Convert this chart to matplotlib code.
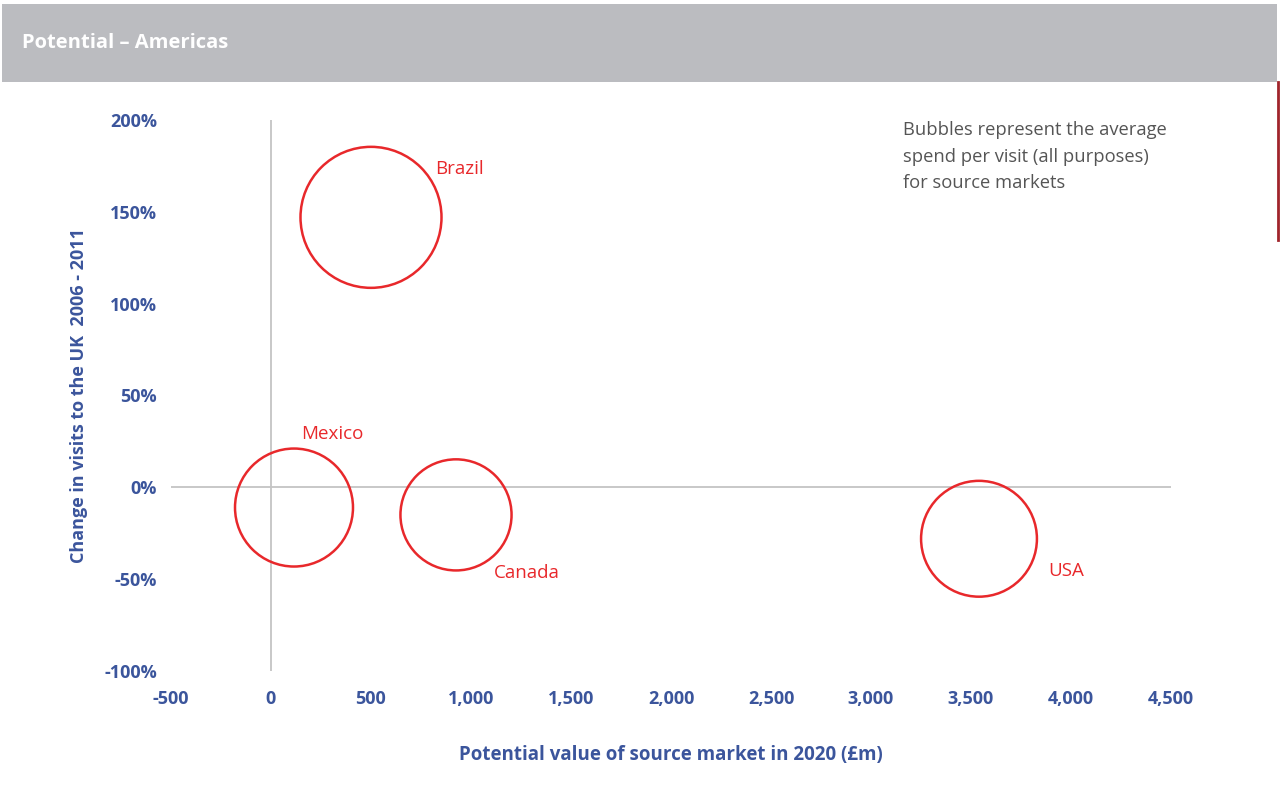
import matplotlib.pyplot as plt
from matplotlib.patches import Rectangle
from matplotlib.lines import Line2D

# data
markets = ["Brazil", "Mexico", "Canada", "USA"]
potential_value = [500, 115, 925, 3540]      # £m in 2020
visit_change = [147, -11, -15, -28]           # % change 2006-2011
spend_per_visit = [1200, 840, 745, 810]       # relative bubble size

x_ticks = [-500, 0, 500, 1000, 1500, 2000, 2500, 3000, 3500, 4000, 4500]
y_ticks = [-100, -50, 0, 50, 100, 150, 200]

# label offsets (points) from bubble centre
label_offsets = {"Brazil": (46, 35), "Mexico": (5, 53), "Canada": (27, -42), "USA": (50, -23)}

BLUE = "#3b559c"
RED = "#e8282b"
GREY = "#c4c4c4"
FONT = ["Open Sans", "DejaVu Sans"]

plt.rcParams['font.family'] = FONT

fig = plt.figure(figsize=(12.8, 7.93), dpi=100)
W, H = 1280, 793

# header band
fig.patches.append(Rectangle((2 / W, 1 - 82 / H), 1275 / W, 78 / H, transform=fig.transFigure,
                             facecolor="#bbbcc0", edgecolor="none", zorder=0))
fig.text(22 / W, 1 - 43 / H, "Potential \u2013 Americas", color="white", fontsize=14.5,
         fontweight="bold", va="center", ha="left")
fig.lines.append(Line2D([1278 / W, 1278 / W], [1 - 82 / H, 1 - 240 / H], transform=fig.transFigure,
                        color="#a0252b", lw=2))

ax = fig.add_axes([171 / W, 1 - 671 / H, 1000 / W, 551 / H])
ax.set_xlim(-500, 4500)
ax.set_ylim(-100, 200)
for s in ax.spines.values():
    s.set_visible(False)
ax.axvline(0, color=GREY, lw=1.3, zorder=1)
ax.axhline(0, color=GREY, lw=1.3, zorder=1)

sizes = [v * 8.59 for v in spend_per_visit]
ax.scatter(potential_value, visit_change, s=sizes, facecolors="none", edgecolors=RED,
           linewidths=1.8, zorder=3, clip_on=False)

for name, xv, yv in zip(markets, potential_value, visit_change):
    dx, dy = label_offsets[name]
    ax.annotate(name, (xv, yv), xytext=(dx, dy), textcoords="offset points",
                color=RED, fontsize=13.5, ha="left", va="center")

ax.set_xticks(x_ticks)
ax.set_xticklabels(["{:,}".format(v) for v in x_ticks])
ax.set_yticks(y_ticks)
ax.set_yticklabels(["{}%".format(v) for v in y_ticks])
ax.tick_params(length=0, colors=BLUE, labelsize=13)
ax.tick_params(axis="x", pad=14)
ax.tick_params(axis="y", pad=10)
for lab in ax.get_xticklabels() + ax.get_yticklabels():
    lab.set_fontweight("bold")

ax.set_xlabel("Potential value of source market in 2020 (\u00a3m)", color=BLUE, fontsize=13.5,
              fontweight="bold", labelpad=26)
ax.set_ylabel("Change in visits to the UK  2006 - 2011", color=BLUE, fontsize=13,
              fontweight="bold", labelpad=12)

fig.text(903 / W, 1 - 121 / H, "Bubbles represent the average\nspend per visit (all purposes)\nfor source markets",
         color="#555555", fontsize=13.2, va="top", ha="left", linespacing=1.62)

fig.savefig("out.png", dpi=100, facecolor="white")
